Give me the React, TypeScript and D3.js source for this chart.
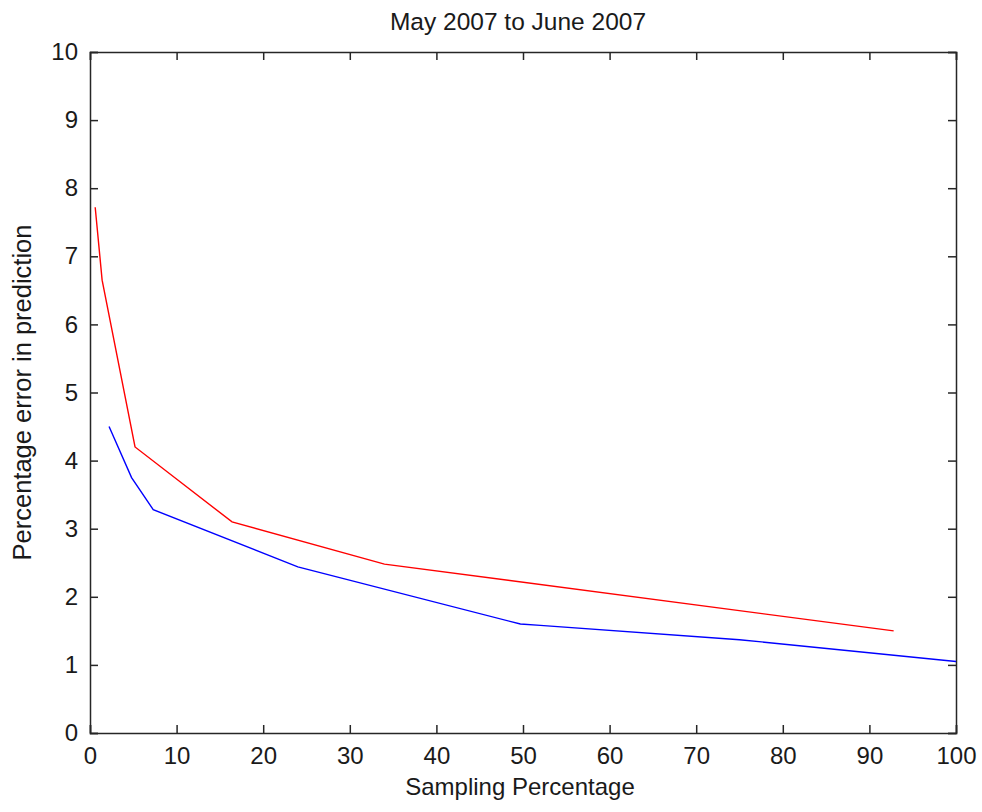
import React, { useEffect, useRef } from "react";
import * as d3 from "d3";

// sampling percentage vs. prediction error
const redX = [0.6, 1.4, 5.2, 16.4, 34.0, 92.8];
const redY = [7.72, 6.65, 4.2, 3.1, 2.48, 1.5];

const blueX = [2.2, 4.8, 7.3, 24.0, 49.7, 52.0, 75.0, 100];
const blueY = [4.5, 3.75, 3.28, 2.44, 1.6, 1.58, 1.37, 1.05];

const xTicks = [0, 10, 20, 30, 40, 50, 60, 70, 80, 90, 100];
const yTicks = [0, 1, 2, 3, 4, 5, 6, 7, 8, 9, 10];

const title = "May 2007 to June 2007";
const xLabel = "Sampling Percentage";
const yLabel = "Percentage error in prediction";

export default function App() {
  const svgRef = useRef<SVGSVGElement>(null);

  useEffect(() => {
    const w = 982;
    const h = 812;
    const left = 90,
      right = 956,
      top = 52,
      bottom = 733;
    const font = "'Liberation Sans', Arial, sans-serif";
    const tick = 8;

    const svg = d3.select(svgRef.current).attr("width", w).attr("height", h);
    svg.selectAll("*").remove();

    svg.append("rect").attr("width", w).attr("height", h).attr("fill", "#fff");

    const x = d3.scaleLinear().domain([0, 100]).range([left, right]);
    const y = d3.scaleLinear().domain([0, 10]).range([bottom, top]);

    const axisColor = "#262626";

    // axes with inward ticks on all four sides
    const xb = svg
      .append("g")
      .attr("transform", `translate(0,${bottom})`)
      .call(d3.axisBottom(x).tickValues(xTicks).tickSize(-tick).tickPadding(14));
    const xt = svg
      .append("g")
      .attr("transform", `translate(0,${top})`)
      .call(d3.axisTop(x).tickValues(xTicks).tickSize(-tick).tickFormat(() => ""));
    const yl = svg
      .append("g")
      .attr("transform", `translate(${left},0)`)
      .call(d3.axisLeft(y).tickValues(yTicks).tickSize(-tick).tickPadding(12));
    const yr = svg
      .append("g")
      .attr("transform", `translate(${right},0)`)
      .call(d3.axisRight(y).tickValues(yTicks).tickSize(-tick).tickFormat(() => ""));

    [xb, xt, yl, yr].forEach((g) => {
      g.select(".domain").attr("stroke", axisColor).attr("stroke-width", 1.5);
      g.selectAll(".tick line").attr("stroke", axisColor).attr("stroke-width", 1.5);
      g.selectAll(".tick text")
        .attr("fill", "#1a1a1a")
        .style("font-family", font)
        .style("font-size", "24px");
    });

    const line = d3
      .line<[number, number]>()
      .x((d) => x(d[0]))
      .y((d) => y(d[1]));

    const red = redX.map((v, i) => [v, redY[i]] as [number, number]);
    const blue = blueX.map((v, i) => [v, blueY[i]] as [number, number]);

    svg
      .append("path")
      .datum(red)
      .attr("d", line)
      .attr("fill", "none")
      .attr("stroke", "#ff0000")
      .attr("stroke-width", 1.4);

    svg
      .append("path")
      .datum(blue)
      .attr("d", line)
      .attr("fill", "none")
      .attr("stroke", "#0000ff")
      .attr("stroke-width", 1.4);

    // labels
    svg
      .append("text")
      .attr("x", 518)
      .attr("y", 30)
      .attr("text-anchor", "middle")
      .style("font-family", font)
      .style("font-size", "24.5px")
      .attr("fill", "#1a1a1a")
      .text(title);

    svg
      .append("text")
      .attr("x", 520)
      .attr("y", 795)
      .attr("text-anchor", "middle")
      .style("font-family", font)
      .style("font-size", "24px")
      .attr("fill", "#1a1a1a")
      .text(xLabel);

    svg
      .append("text")
      .attr("transform", `translate(31,${(top + bottom) / 2}) rotate(-90)`)
      .attr("text-anchor", "middle")
      .style("font-family", font)
      .style("font-size", "25.5px")
      .attr("fill", "#1a1a1a")
      .text(yLabel);
  }, []);

  return (
    <div style={{ position: "absolute", left: 0, top: 0 }}>
      <svg ref={svgRef} style={{ display: "block" }}></svg>
    </div>
  );
}
